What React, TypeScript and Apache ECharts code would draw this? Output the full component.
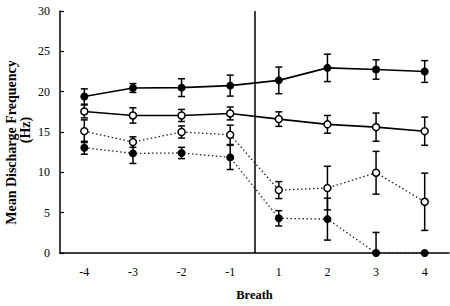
import React, { useEffect, useRef } from "react";
import * as echarts from "echarts";

const categories = ["-4", "-3", "-2", "-1", "1", "2", "3", "4"];

// Solid line, filled circles (top)
const solidFilledMean = [19.4, 20.45, 20.5, 20.75, 21.4, 22.95, 22.75, 22.5];
const solidFilledErr = [0.95, 0.55, 1.1, 1.3, 1.65, 1.7, 1.2, 1.35];

// Solid line, open circles
const solidOpenMean = [17.55, 17.05, 17.05, 17.3, 16.6, 15.95, 15.6, 15.1];
const solidOpenErr = [0.8, 0.95, 0.75, 0.8, 0.9, 1.1, 1.75, 1.75];

// Dotted line, open circles
const dottedOpenMean = [15.1, 13.75, 15.0, 14.65, 7.8, 8.05, 9.95, 6.35];
const dottedOpenErr = [1.4, 0.65, 0.75, 1.2, 1.05, 2.7, 2.65, 3.55];

// Dotted line, filled circles
const dottedFilledMean = [13.05, 12.35, 12.4, 11.85, 4.3, 4.2, 0, 0];
const dottedFilledErr = [0.8, 1.25, 0.7, 1.5, 0.95, 2.6, 2.55, 0];

// Position of the divider on the category scale (between "-1" and "1")
const dividerAt = [4];

const FONT = "Liberation Serif";

function errorBars(means: number[], errs: number[]) {
  return {
    type: "custom",
    silent: true,
    z: 2,
    renderItem: (params: any, api: any) => {
      const x = api.value(0);
      const hi = api.value(1);
      const lo = api.value(2);
      if (hi === lo) return null;
      const top = api.coord([x, hi]);
      const bot = api.coord([x, lo]);
      const w = 3.5;
      const st = { stroke: "#000", lineWidth: 1.5 };
      return {
        type: "group",
        children: [
          { type: "line", shape: { x1: top[0], y1: top[1], x2: bot[0], y2: bot[1] }, style: st },
          { type: "line", shape: { x1: top[0] - w, y1: top[1], x2: top[0] + w, y2: top[1] }, style: st },
          { type: "line", shape: { x1: bot[0] - w, y1: bot[1], x2: bot[0] + w, y2: bot[1] }, style: st },
        ],
      };
    },
    encode: { x: 0, y: [1, 2] },
    data: means.map((m, i) => [i, m + errs[i], Math.max(0, m - errs[i])]),
  };
}

function lineSeries(name: string, data: number[], filled: boolean, dotted: boolean) {
  return {
    type: "line",
    name,
    data,
    z: 3,
    symbol: "circle",
    symbolSize: filled ? 8 : 7,
    itemStyle: filled
      ? { color: "#000", borderColor: "#000", borderWidth: 0 }
      : { color: "#fff", borderColor: "#000", borderWidth: 1.5 },
    lineStyle: dotted
      ? { color: "#222", width: 1.3, type: [1.5, 2.5] }
      : { color: "#000", width: 1.6, type: "solid" },
    emphasis: { disabled: true },
  };
}

export default function App() {
  const ref = useRef<HTMLDivElement>(null);
  useEffect(() => {
    const chart = echarts.init(ref.current!, null, { renderer: "svg" });
    chart.setOption({
      animation: false,
      textStyle: { fontFamily: FONT },
      grid: { left: 60, right: 1, top: 11, bottom: 51, containLabel: false },
      xAxis: [
        {
          type: "category",
          data: categories,
          boundaryGap: true,
          name: "Breath",
          nameLocation: "middle",
          nameGap: 35,
          nameTextStyle: { fontFamily: FONT, fontSize: 12.5, fontWeight: "bold", color: "#000" },
          axisLine: { lineStyle: { color: "#000", width: 1.5 } },
          axisTick: { inside: true, length: 4, lineStyle: { color: "#000", width: 1.2 } },
          axisLabel: { color: "#000", fontFamily: FONT, fontSize: 12, margin: 13 },
          splitLine: { show: false },
        },
        {
          type: "value",
          min: 0,
          max: 8,
          show: false,
        },
      ],
      yAxis: {
        type: "value",
        min: 0,
        max: 30,
        interval: 5,
        axisLine: { show: true, lineStyle: { color: "#000", width: 1.5 } },
        axisTick: { show: true, inside: true, length: 4, lineStyle: { color: "#000", width: 1.2 } },
        axisLabel: { color: "#000", fontFamily: FONT, fontSize: 12, margin: 10 },
        splitLine: { show: false },
      },
      graphic: [
        {
          type: "text",
          x: 11,
          y: 142.5,
          rotation: Math.PI / 2,
          style: {
            text: "Mean Discharge Frequency",
            fontFamily: FONT,
            fontSize: 14,
            fontWeight: "bold",
            fill: "#000",
            align: "center",
            verticalAlign: "middle",
          },
        },
        {
          type: "text",
          x: 25,
          y: 130,
          rotation: Math.PI / 2,
          style: {
            text: "(Hz)",
            fontFamily: FONT,
            fontSize: 14,
            fontWeight: "bold",
            fill: "#000",
            align: "center",
            verticalAlign: "middle",
          },
        },
      ],
      series: [
        {
          type: "line",
          xAxisIndex: 1,
          data: [],
          silent: true,
          markLine: {
            silent: true,
            symbol: "none",
            label: { show: false },
            lineStyle: { color: "#000", width: 1.5, type: "solid" },
            data: dividerAt.map((v) => ({ xAxis: v })),
          },
        },
        errorBars(solidFilledMean, solidFilledErr),
        errorBars(solidOpenMean, solidOpenErr),
        errorBars(dottedOpenMean, dottedOpenErr),
        errorBars(dottedFilledMean, dottedFilledErr),
        lineSeries("Solid filled", solidFilledMean, true, false),
        lineSeries("Solid open", solidOpenMean, false, false),
        lineSeries("Dotted open", dottedOpenMean, false, true),
        lineSeries("Dotted filled", dottedFilledMean, true, true),
      ],
    });
    return () => chart.dispose();
  }, []);
  return (
    <div
      ref={ref}
      style={{ position: "absolute", left: 0, top: 0, width: 450, height: 306, background: "#fff" }}
    />
  );
}
